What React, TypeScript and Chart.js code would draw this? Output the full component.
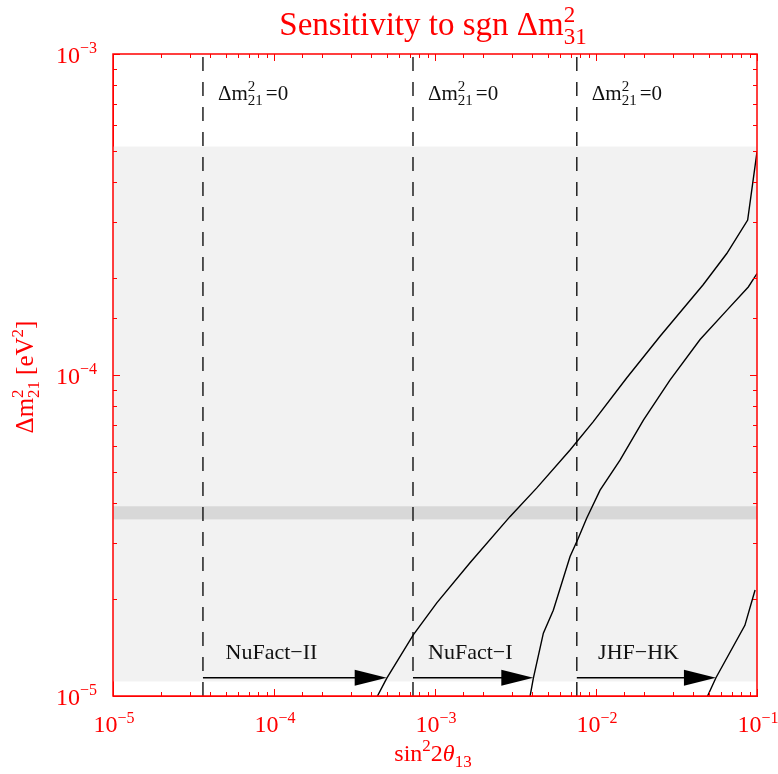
import React, { useEffect, useRef } from 'react';
import { Chart, registerables } from 'chart.js';

Chart.register(...registerables);

// ---- axis ranges and tick labels ----
const xRange = [1e-5, 1e-1];
const yRange = [1e-5, 1e-3];
const xTickExponents = [-5, -4, -3, -2, -1];
const yTickExponents = [-5, -4, -3];

// ---- sensitivity curves ----
const nufact2X = [4.37e-4, 5.01e-4, 7.33e-4, 1.026e-3, 1.65e-3, 2.92e-3, 4.29e-3, 6.9e-3, 9.62e-3, 1.55e-2, 2.5e-2, 4.63e-2, 6.49e-2, 8.75e-2, 1e-1];
const nufact2Y = [9.95e-6, 1.135e-5, 1.55e-5, 1.95e-5, 2.6e-5, 3.62e-5, 4.45e-5, 5.84e-5, 7.16e-5, 9.79e-5, 1.32e-4, 1.91e-4, 2.39e-4, 3.04e-4, 4.96e-4];

const nufact1X = [3.89e-3, 4.08e-3, 4.71e-3, 5.43e-3, 6.9e-3, 7.76e-3, 8.75e-3, 1.06e-2, 1.41e-2, 1.97e-2, 2.88e-2, 4.43e-2, 6.49e-2, 8.83e-2, 1e-1];
const nufact1Y = [9.95e-6, 1.135e-5, 1.57e-5, 1.85e-5, 2.72e-5, 3.1e-5, 3.58e-5, 4.38e-5, 5.43e-5, 7.24e-5, 9.64e-5, 1.29e-4, 1.59e-4, 1.88e-4, 2.07e-4];

const jhfX = [4.91e-2, 5.56e-2, 8.41e-2, 9.73e-2];
const jhfY = [9.95e-6, 1.14e-5, 1.66e-5, 2.14e-5];

// ---- Δm²21 = 0 limits (dashed) and arrows ----
const dashedX = [3.62e-5, 7.3e-4, 7.6e-3];
const experimentNames = ['NuFact\u2212II', 'NuFact\u2212I', 'JHF\u2212HK'];
const arrowTipX = [5.01e-4, 4.08e-3, 5.56e-2];
const arrowY = [1.14e-5];
const nameX = [5e-5, 9.06e-4, 1.03e-2];
const nameY = [1.3e-5];
const zeroLabelY = [7.19e-4];

// ---- bands ----
const lightBand = [1.11e-5, 5.15e-4];
const darkBand = [3.55e-5, 3.9e-5];

const FAMILY = '"Liberation Serif", "Times New Roman", Times, serif';
const RED = '#ff0000';

type Seg = {
  text?: string;
  sup?: string;
  sub?: string;
  size: number;
  style?: string;
  dy?: number;
  supDy?: number;
  subDy?: number;
  gap?: number;
};

function fontOf(s: Seg) {
  return `${s.style || ''} ${s.size}px ${FAMILY}`.trim();
}

function segWidth(ctx: CanvasRenderingContext2D, s: Seg) {
  ctx.font = fontOf(s);
  if (s.text !== undefined) return ctx.measureText(s.text).width + (s.gap || 0);
  const w1 = s.sup ? ctx.measureText(s.sup).width : 0;
  const w2 = s.sub ? ctx.measureText(s.sub).width : 0;
  return Math.max(w1, w2) + (s.gap || 0);
}

function drawRich(
  ctx: CanvasRenderingContext2D,
  segs: Seg[],
  x: number,
  y: number,
  align: 'left' | 'center' | 'right',
  color: string
) {
  const total = segs.reduce((a, s) => a + segWidth(ctx, s), 0);
  let cx = align === 'left' ? x : align === 'center' ? x - total / 2 : x - total;
  ctx.save();
  ctx.fillStyle = color;
  ctx.textAlign = 'left';
  ctx.textBaseline = 'alphabetic';
  for (const s of segs) {
    const w = segWidth(ctx, s);
    ctx.font = fontOf(s);
    if (s.text !== undefined) {
      ctx.fillText(s.text, cx, y + (s.dy || 0));
    } else {
      if (s.sup) ctx.fillText(s.sup, cx, y + (s.supDy || 0));
      if (s.sub) ctx.fillText(s.sub, cx, y + (s.subDy || 0));
    }
    cx += w;
  }
  ctx.restore();
}

const pts = (xs: number[], ys: number[]) => xs.map((x, i) => ({ x, y: ys[i] }));

const decorPlugin = {
  id: 'decor',
  beforeDatasetsDraw(chart: any) {
    const { ctx, chartArea } = chart;
    const ys = chart.scales.y;
    ctx.save();
    const b1 = ys.getPixelForValue(lightBand[1]);
    const b0 = ys.getPixelForValue(lightBand[0]);
    ctx.fillStyle = '#f2f2f2';
    ctx.fillRect(chartArea.left, b1, chartArea.right - chartArea.left, b0 - b1);
    const d1 = ys.getPixelForValue(darkBand[1]);
    const d0 = ys.getPixelForValue(darkBand[0]);
    ctx.fillStyle = '#d8d8d8';
    ctx.fillRect(chartArea.left, d1, chartArea.right - chartArea.left, d0 - d1);
    ctx.restore();
  },
  afterDatasetsDraw(chart: any) {
    const { ctx, chartArea } = chart;
    const xs = chart.scales.x;
    const ys = chart.scales.y;

    // arrows
    ctx.save();
    const ay = ys.getPixelForValue(arrowY[0]);
    for (let i = 0; i < dashedX.length; i++) {
      const x0 = xs.getPixelForValue(dashedX[i]);
      const x1 = xs.getPixelForValue(arrowTipX[i]);
      const headLen = 32;
      const headHalf = 8;
      ctx.strokeStyle = '#000';
      ctx.lineWidth = 1.6;
      ctx.beginPath();
      ctx.moveTo(x0, ay);
      ctx.lineTo(x1 - headLen + 2, ay);
      ctx.stroke();
      ctx.fillStyle = '#000';
      ctx.beginPath();
      ctx.moveTo(x1, ay);
      ctx.lineTo(x1 - headLen, ay - headHalf);
      ctx.lineTo(x1 - headLen, ay + headHalf);
      ctx.closePath();
      ctx.fill();
    }
    ctx.restore();

    // experiment names
    const ny = ys.getPixelForValue(nameY[0]);
    for (let i = 0; i < experimentNames.length; i++) {
      drawRich(ctx, [{ text: experimentNames[i], size: 22 }], xs.getPixelForValue(nameX[i]), ny, 'left', '#111');
    }

    // Δm²21 = 0 labels
    const zy = ys.getPixelForValue(zeroLabelY[0]);
    for (let i = 0; i < dashedX.length; i++) {
      drawRich(
        ctx,
        [
          { text: '\u0394m', size: 21 },
          { sup: '2', sub: '21', size: 15, supDy: -8.5, subDy: 5, gap: 3 },
          { text: '=0', size: 21 },
        ],
        xs.getPixelForValue(dashedX[i]) + 15,
        zy,
        'left',
        '#111'
      );
    }

    // inward ticks on all four sides
    ctx.save();
    ctx.strokeStyle = RED;
    ctx.lineWidth = 1;
    const isMajor = (v: number) => Math.abs(Math.log10(v) - Math.round(Math.log10(v))) < 1e-6;
    for (const t of xs.ticks) {
      const v = t.value;
      if (v < xRange[0] * 0.999 || v > xRange[1] * 1.001) continue;
      const px = Math.round(xs.getPixelForValue(v)) + 0.5;
      const len = isMajor(v) ? 7 : 4;
      ctx.beginPath();
      ctx.moveTo(px, chartArea.bottom);
      ctx.lineTo(px, chartArea.bottom - len);
      ctx.moveTo(px, chartArea.top);
      ctx.lineTo(px, chartArea.top + len);
      ctx.stroke();
    }
    for (const t of ys.ticks) {
      const v = t.value;
      if (v < yRange[0] * 0.999 || v > yRange[1] * 1.001) continue;
      const py = Math.round(ys.getPixelForValue(v)) + 0.5;
      const len = isMajor(v) ? 7 : 4;
      ctx.beginPath();
      ctx.moveTo(chartArea.left, py);
      ctx.lineTo(chartArea.left + len, py);
      ctx.moveTo(chartArea.right, py);
      ctx.lineTo(chartArea.right - len, py);
      ctx.stroke();
    }
    // frame
    ctx.lineWidth = 1.5;
    ctx.strokeRect(chartArea.left, chartArea.top, chartArea.right - chartArea.left, chartArea.bottom - chartArea.top);
    ctx.restore();

    // tick labels
    for (const e of xTickExponents) {
      const px = xs.getPixelForValue(Math.pow(10, e));
      drawRich(
        ctx,
        [
          { text: '10', size: 24 },
          { text: '\u2212' + Math.abs(e), size: 16, dy: -9.5 },
        ],
        px + 1,
        732,
        'center',
        RED
      );
    }
    for (const e of yTickExponents) {
      const py = ys.getPixelForValue(Math.pow(10, e));
      drawRich(
        ctx,
        [
          { text: '10', size: 24 },
          { text: '\u2212' + Math.abs(e), size: 16, dy: -9.5 },
        ],
        chartArea.left - 16,
        py + 8.5,
        'right',
        RED
      );
    }

    const midX = (chartArea.left + chartArea.right) / 2;
    const midY = (chartArea.top + chartArea.bottom) / 2;

    // title
    drawRich(
      ctx,
      [
        { text: 'Sensitivity to sgn \u0394m', size: 33 },
        { sup: '2', sub: '31', size: 23, supDy: -13.5, subDy: 8.5 },
      ],
      midX - 2,
      35,
      'center',
      RED
    );

    // x title
    drawRich(
      ctx,
      [
        { text: 'sin', size: 24 },
        { text: '2', size: 17, dy: -10 },
        { text: '2', size: 24 },
        { text: '\u03b8', size: 24, style: 'italic' },
        { text: '13', size: 17, dy: 6 },
      ],
      midX - 2,
      761,
      'center',
      RED
    );

    // y title (rotated)
    ctx.save();
    ctx.translate(33, midY + 2);
    ctx.rotate(-Math.PI / 2);
    drawRich(
      ctx,
      [
        { text: '\u0394m', size: 25 },
        { sup: '2', sub: '21', size: 17, supDy: -10, subDy: 6, gap: 6 },
        { text: '[eV', size: 25 },
        { text: '2', size: 17, dy: -10 },
        { text: ']', size: 25 },
      ],
      0,
      0,
      'center',
      RED
    );
    ctx.restore();
  },
};

export default function App() {
  const ref = useRef<HTMLCanvasElement | null>(null);

  useEffect(() => {
    if (!ref.current) return;
    const curveStyle = {
      borderColor: '#000',
      borderWidth: 1.4,
      pointRadius: 0,
      tension: 0,
      fill: false,
    };
    const dashedSets = dashedX.map((x) => ({
      data: [
        { x, y: yRange[0] },
        { x, y: yRange[1] },
      ],
      borderColor: '#111',
      borderWidth: 1.4,
      borderDash: [14, 11],
      pointRadius: 0,
      fill: false,
    }));
    const chart = new Chart(ref.current, {
      type: 'line',
      data: {
        datasets: [
          { data: pts(nufact2X, nufact2Y), ...curveStyle },
          { data: pts(nufact1X, nufact1Y), ...curveStyle },
          { data: pts(jhfX, jhfY), ...curveStyle },
          ...dashedSets,
        ] as any,
      },
      options: {
        responsive: false,
        animation: false,
        devicePixelRatio: 1,
        events: [],
        layout: { padding: { top: 54, right: 21, left: 0, bottom: 0 } },
        plugins: { legend: { display: false }, tooltip: { enabled: false }, title: { display: false } },
        scales: {
          x: {
            type: 'logarithmic',
            min: xRange[0],
            max: xRange[1],
            grid: { display: false },
            ticks: { display: false },
            border: { display: true, color: RED },
            afterFit: (s: any) => {
              s.height = 78;
            },
          },
          y: {
            type: 'logarithmic',
            min: yRange[0],
            max: yRange[1],
            grid: { display: false },
            ticks: { display: false },
            border: { display: true, color: RED },
            afterFit: (s: any) => {
              s.width = 113;
            },
          },
        },
      } as any,
      plugins: [decorPlugin],
    });
    return () => chart.destroy();
  }, []);

  return (
    <div style={{ position: 'absolute', left: 0, top: 0, width: 778, height: 774, background: '#fff' }}>
      <canvas ref={ref} width={778} height={774} style={{ display: 'block' }} />
    </div>
  );
}
